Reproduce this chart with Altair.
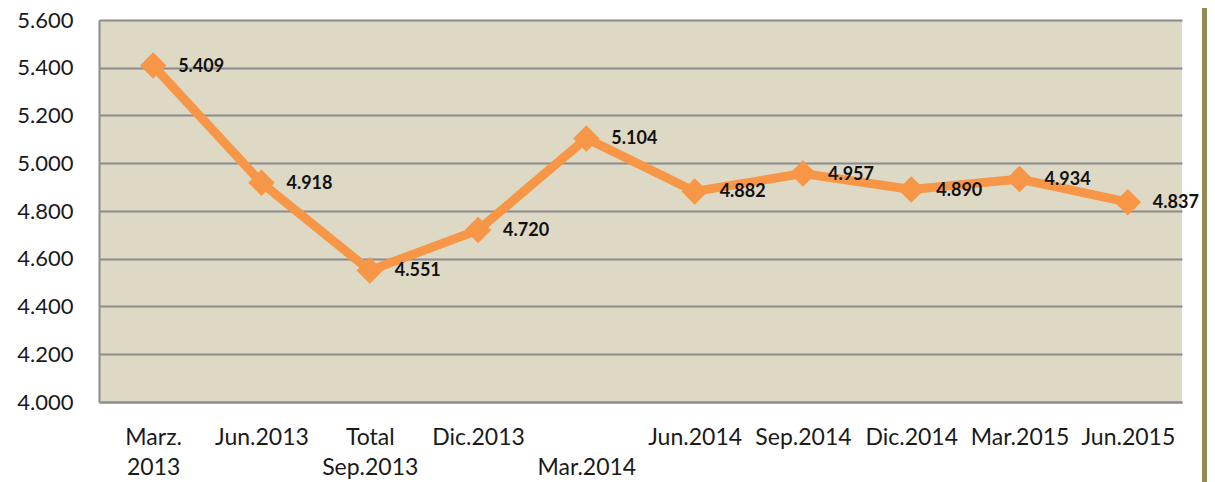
import altair as alt
import pandas as pd

categories = ["Marz.\n2013", "Jun.2013", "Total\nSep.2013", "Dic.2013", " \nMar.2014",
              "Jun.2014", "Sep.2014", "Dic.2014", "Mar.2015", "Jun.2015"]
values = [5.409, 4.918, 4.551, 4.720, 5.104, 4.882, 4.957, 4.890, 4.934, 4.837]
value_labels = ["5.409", "4.918", "4.551", "4.720", "5.104", "4.882", "4.957", "4.890", "4.934", "4.837"]
y_ticks = [4.0, 4.2, 4.4, 4.6, 4.8, 5.0, 5.2, 5.4, 5.6]

df = pd.DataFrame({"cat": categories, "val": values, "lab": value_labels})

FONT = "Lato"
W, H = 1083, 382

x = alt.X("cat:N", sort=categories, title=None,
          scale=alt.Scale(paddingInner=1, paddingOuter=0.5, align=0.5),
          axis=alt.Axis(labelAngle=0, labelExpr="split(datum.label, '\\n')",
                        labelFontSize=23, labelFont=FONT, labelColor="#1a1a1a",
                        labelPadding=24, labelLineHeight=30, labelBaseline="top",
                        ticks=False, domainColor="#8c8c8c", domainWidth=2, grid=False))
y = alt.Y("val:Q", title=None,
          scale=alt.Scale(domain=[4.0, 5.6], nice=False, zero=False),
          axis=alt.Axis(values=y_ticks, format=".3f",
                        labelFontSize=22, labelFont=FONT, labelColor="#1a1a1a",
                        labelPadding=26, ticks=False, domainColor="#8c8c8c", domainWidth=2,
                        grid=True, gridColor="#8c8c8c", gridWidth=2))

base = alt.Chart(df)

line = base.mark_line(color="#F79646", strokeWidth=9).encode(x=x, y=y)
pts = base.mark_point(shape="diamond", filled=True, size=700, color="#F79646", opacity=1).encode(x=x, y=y)
labels = base.mark_text(align="left", baseline="middle", dx=25, dy=1, fontSize=18,
                        fontWeight="bold", font=FONT, color="#111111").encode(x=x, y=y, text="lab:N")

bar = alt.Chart(pd.DataFrame({"a": [0]})).mark_rule(color="#948A54", strokeWidth=5).encode(
    x=alt.value(1204.5 - 99), y=alt.value(-20), y2=alt.value(482 - 20))

chart = alt.layer(line, pts, labels, bar).properties(
    width=W, height=H,
    background="#ffffff",
    padding={"left": 91, "top": 12, "right": 25, "bottom": 80},
    autosize=alt.AutoSizeParams(type="none"),
).configure_view(fill="#DDD9C4", stroke="#8c8c8c", strokeWidth=0)

chart.save("out.html", embed_options={"renderer": "svg", "actions": False})
